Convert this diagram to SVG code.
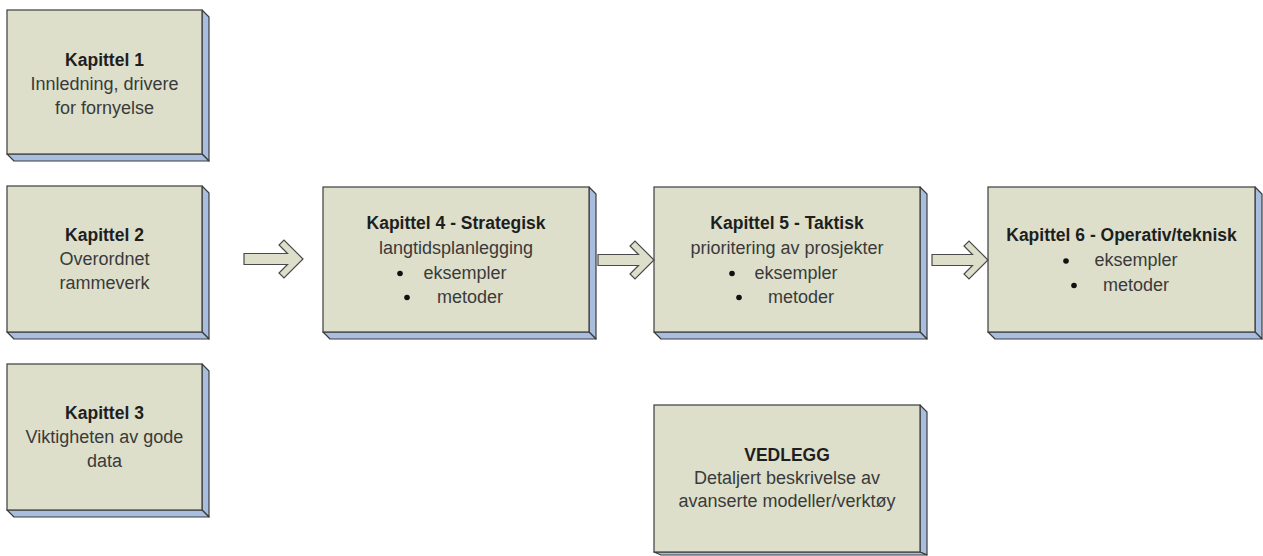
<svg xmlns="http://www.w3.org/2000/svg" width="1263" height="556" viewBox="0 0 1263 556">
<style>
.face{fill:#DDDFCB;stroke:#3C3C3C;stroke-width:1.2}
.side{fill:#A9BEDF;stroke:#3C3C3C;stroke-width:1.2;stroke-linejoin:round}
.arrow{fill:#DDDFCB;stroke:#4A4A4A;stroke-width:1.2;stroke-linejoin:miter}
.t{font-family:"Liberation Sans",Arial,sans-serif;font-size:18px;fill:#3A3A3A;text-anchor:middle}
.b{font-family:"Liberation Sans",Arial,sans-serif;font-size:17.5px;font-weight:bold;fill:#1E1E1E;text-anchor:middle}
.dot{fill:#111}
</style>
<rect width="1263" height="556" fill="#FFFFFF"/>

<g id="kapittel1">
<polygon class="side" points="202,10 209,17 209,161 202,154"/>
<polygon class="side" points="7,154 202,154 209,161 14,161"/>
<rect class="face" x="7" y="10" width="195" height="144"/>
<text class="b" x="104.5" y="66">Kapittel 1</text>
<text class="t" x="104.5" y="90">Innledning, drivere</text>
<text class="t" x="104.5" y="114">for fornyelse</text>
</g>

<g id="kapittel2">
<polygon class="side" points="202,186 209,193 209,339 202,332"/>
<polygon class="side" points="7,332 202,332 209,339 14,339"/>
<rect class="face" x="7" y="186" width="195" height="146"/>
<text class="b" x="104.5" y="241">Kapittel 2</text>
<text class="t" x="104.5" y="265">Overordnet</text>
<text class="t" x="104.5" y="289">rammeverk</text>
</g>

<g id="kapittel3">
<polygon class="side" points="202,364 209,371 209,517 202,510"/>
<polygon class="side" points="7,510 202,510 209,517 14,517"/>
<rect class="face" x="7" y="364" width="195" height="146"/>
<text class="b" x="104.5" y="419">Kapittel 3</text>
<text class="t" x="104.5" y="443">Viktigheten av gode</text>
<text class="t" x="104.5" y="467">data</text>
</g>

<g id="kapittel4">
<polygon class="side" points="589,187 596,194 596,339 589,332"/>
<polygon class="side" points="323,332 589,332 596,339 330,339"/>
<rect class="face" x="323" y="187" width="266" height="145"/>
<text class="b" x="456" y="229">Kapittel 4 - Strategisk</text>
<text class="t" x="456" y="254">langtidsplanlegging</text>
<circle class="dot" cx="400" cy="273.5" r="2.8"/>
<text class="t" x="465" y="279">eksempler</text>
<circle class="dot" cx="407" cy="297.5" r="2.8"/>
<text class="t" x="470" y="303">metoder</text>
</g>

<g id="kapittel5">
<polygon class="side" points="920,187 927,194 927,339 920,332"/>
<polygon class="side" points="654,332 920,332 927,339 661,339"/>
<rect class="face" x="654" y="187" width="266" height="145"/>
<text class="b" x="787" y="229">Kapittel 5 - Taktisk</text>
<text class="t" x="787" y="254">prioritering av prosjekter</text>
<circle class="dot" cx="732" cy="273.5" r="2.8"/>
<text class="t" x="796" y="279">eksempler</text>
<circle class="dot" cx="739" cy="297.5" r="2.8"/>
<text class="t" x="801" y="303">metoder</text>
</g>

<g id="kapittel6">
<polygon class="side" points="1255,187 1262,194 1262,339 1255,332"/>
<polygon class="side" points="988,332 1255,332 1262,339 995,339"/>
<rect class="face" x="988" y="187" width="267" height="145"/>
<text class="b" x="1121.5" y="241">Kapittel 6 - Operativ/teknisk</text>
<circle class="dot" cx="1066" cy="261" r="2.8"/>
<text class="t" x="1136" y="266">eksempler</text>
<circle class="dot" cx="1074" cy="285.5" r="2.8"/>
<text class="t" x="1136" y="291">metoder</text>
</g>

<g id="vedlegg">
<polygon class="side" points="920,405 927,412 927,555 920,552"/>
<polygon class="side" points="654,552 920,552 927,555 661,555"/>
<rect class="face" x="654" y="405" width="266" height="147"/>
<text class="b" x="787" y="461">VEDLEGG</text>
<text class="t" x="787" y="484">Detaljert beskrivelse av</text>
<text class="t" x="787" y="507">avanserte modeller/verktøy</text>
</g>

<g id="connectors">
<path class="arrow" d="M244,253.5 H287.5 L279,245 L284,240 L303,259 L284,278 L279,273 L287.5,264.5 H244 Z"/>
<path class="arrow" d="M598,254.5 H638.5 L630,246 L635,241 L654,260 L635,279 L630,274 L638.5,265.5 H598 Z"/>
<path class="arrow" d="M932,254.5 H972.5 L964,246 L969,241 L988,260 L969,279 L964,274 L972.5,265.5 H932 Z"/>
</g>
</svg>
